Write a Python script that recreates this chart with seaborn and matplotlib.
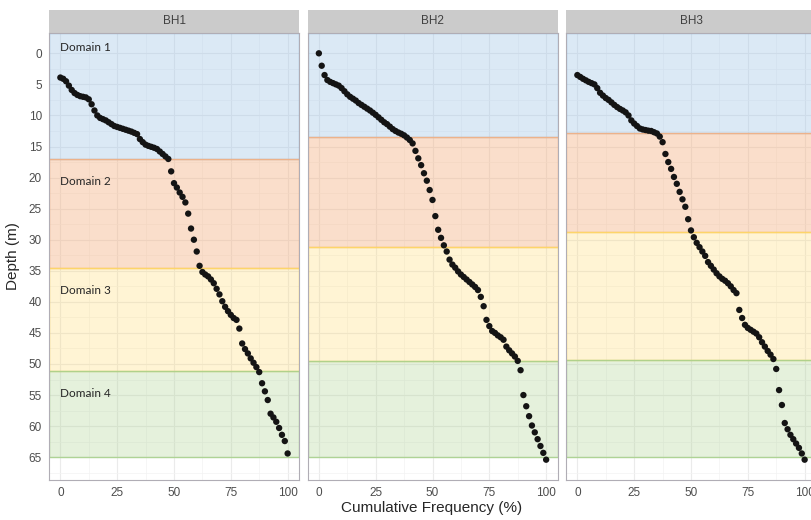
import pandas as pd
import numpy as np
import matplotlib
matplotlib.use('Agg')
import matplotlib.pyplot as plt
from matplotlib.patches import Rectangle
from matplotlib.colors import to_rgba
import seaborn as sns

boreholes = ['BH1', 'BH2', 'BH3']

# sorted depth samples (m) per borehole
depth_bh1 = [3.9, 4.1, 4.5, 5.2, 5.9, 6.4, 6.7, 6.9, 7.0, 7.1,
             7.4, 8.2, 9.2, 10.0, 10.4, 10.6, 10.8, 11.1, 11.4, 11.7,
             11.85, 12.0, 12.15, 12.3, 12.45, 12.6, 12.8, 13.0, 13.8, 14.3,
             14.7, 14.9, 15.05, 15.2, 15.4, 15.8, 16.2, 16.6, 17.0, 19.0,
             20.9, 21.6, 22.4, 23.1, 24.0, 25.8, 28.2, 30.0, 31.9, 34.2,
             35.2, 35.6, 35.9, 36.4, 37.0, 37.9, 38.8, 39.9, 40.8, 41.5,
             42.1, 42.6, 42.9, 44.3, 46.7, 47.6, 48.3, 49.1, 49.8, 50.5,
             51.3, 53.1, 54.4, 55.8, 58.0, 58.6, 59.3, 60.3, 61.4, 62.4,
             64.4]
depth_bh2 = [0.0, 2.0, 3.5, 4.3, 4.6, 4.8, 5.0, 5.2, 5.6, 6.1,
             6.6, 7.0, 7.3, 7.6, 8.0, 8.3, 8.6, 8.9, 9.2, 9.55,
             9.9, 10.3, 10.7, 11.1, 11.4, 11.8, 12.2, 12.5, 12.75, 12.95,
             13.2, 13.55, 13.95, 14.5, 15.7, 16.9, 18.0, 19.3, 20.5, 22.0,
             23.6, 26.2, 28.4, 29.7, 30.9, 31.9, 33.2, 34.0, 34.5, 35.1,
             35.6, 36.0, 36.4, 36.8, 37.2, 37.6, 38.1, 39.2, 40.7, 42.9,
             43.9, 44.7, 45.0, 45.4, 45.7, 46.1, 47.2, 47.8, 48.3, 48.8,
             49.5, 51.0, 55.0, 56.8, 58.4, 59.9, 61.0, 62.1, 63.2, 64.3,
             65.4]
depth_bh3 = [3.5, 3.8, 4.1, 4.35, 4.6, 4.8, 5.0, 5.6, 6.35, 6.8,
             7.2, 7.5, 7.9, 8.3, 8.65, 8.95, 9.2, 9.5, 10.0, 10.8,
             11.3, 11.7, 12.1, 12.25, 12.35, 12.45, 12.5, 12.7, 12.9, 13.4,
             14.3, 16.2, 17.5, 18.6, 19.9, 21.0, 22.3, 23.5, 24.7, 26.7,
             28.5, 29.6, 30.5, 31.2, 31.9, 32.6, 33.6, 34.2, 34.8, 35.4,
             35.9, 36.3, 36.6, 37.0, 37.5, 38.1, 38.6, 41.3, 42.6, 43.7,
             44.2, 44.5, 44.8, 45.1, 45.7, 46.5, 47.2, 47.9, 48.5, 49.2,
             50.8, 54.2, 56.6, 59.5, 60.5, 61.4, 62.1, 62.8, 63.5, 64.4,
             65.4]

# lower boundary (m) of domain 1..4 in each borehole
bounds_bh1 = [17.0, 34.5, 51.1, 65.0]
bounds_bh2 = [13.5, 31.2, 49.5, 65.0]
bounds_bh3 = [12.9, 28.8, 49.4, 65.0]

domain_names = ['Domain 1', 'Domain 2', 'Domain 3', 'Domain 4']
domain_colors = ['#9dc3e6', '#f4b183', '#ffd966', '#a9d18e']
domain_alpha = [0.36, 0.42, 0.28, 0.3]

x_ticks = [0, 25, 50, 75, 100]
y_ticks = list(range(0, 70, 5))

depths = {'BH1': depth_bh1, 'BH2': depth_bh2, 'BH3': depth_bh3}
bounds = {'BH1': bounds_bh1, 'BH2': bounds_bh2, 'BH3': bounds_bh3}

df = pd.concat([pd.DataFrame({'bh': bh, 'depth': depths[bh]}) for bh in boreholes],
               ignore_index=True)
rank = df.groupby('bh')['depth'].rank(method='first')
n = df.groupby('bh')['depth'].transform('size')
df['cum'] = (rank - 1) / (n - 1) * 100

sns.set_style('white')
plt.rcParams['font.family'] = ['Liberation Sans', 'DejaVu Sans']

g = sns.FacetGrid(df, col='bh', col_order=boreholes, sharey=True, sharex=True,
                  height=4, aspect=0.6, despine=False)
g.map_dataframe(sns.scatterplot, x='cum', y='depth', color='#141414', s=21,
                edgecolor='none', linewidth=0, zorder=3)
g.set_titles('')
g.set_axis_labels('', '')

fig = g.figure
fig.set_size_inches(8.11, 5.2)
fig.set_dpi(100)

W, H = 811, 520
top_px, bot_px = 33, 480
lefts = [49, 307.5, 566]
pw = 250
ylo, yhi = -3.27, 68.67
strip_h = 23 / (bot_px - top_px)

for i, (ax, bh) in enumerate(zip(g.axes.flat, boreholes)):
    ax.set_position([lefts[i] / W, 1 - bot_px / H, pw / W, (bot_px - top_px) / H])
    ax.set_xlim(-5, 105)
    ax.set_ylim(yhi, ylo)
    ax.set_xticks(x_ticks)
    ax.set_yticks(y_ticks)
    ax.set_xticks([12.5, 37.5, 62.5, 87.5], minor=True)
    ax.set_yticks([v + 2.5 for v in y_ticks], minor=True)
    ax.set_axisbelow(True)
    ax.grid(which='major', color='#ebebeb', lw=0.8)
    ax.grid(which='minor', color='#f3f3f3', lw=0.5)
    ax.tick_params(which='minor', length=0)
    ax.tick_params(which='major', length=3, width=0.8, color='#666666',
                   labelcolor='#4d4d4d', labelsize=8.5, pad=2)
    if i > 0:
        ax.tick_params(axis='y', left=False, labelleft=False)
    for sp in ax.spines.values():
        sp.set_color('#b0adb5')
        sp.set_linewidth(0.8)

    top = ylo
    for k, b in enumerate(bounds[bh]):
        ax.axhspan(top, b, facecolor=to_rgba(domain_colors[k], domain_alpha[k]),
                   edgecolor=to_rgba(domain_colors[k], 0.9), lw=1.0, zorder=1)
        if i == 0:
            ty = top + 2.3 if k == 0 else top + 3.6
            ax.text(0, ty, domain_names[k], fontsize=8.5, color='#262626',
                    family=['Lato', 'DejaVu Sans'], va='center', ha='left', zorder=4)
        top = b

    ax.add_patch(Rectangle((0, 1), 1, strip_h, transform=ax.transAxes,
                           facecolor='#cbcbcb', edgecolor='none', clip_on=False))
    ax.text(0.5, 1 + strip_h / 2, bh, transform=ax.transAxes, ha='center',
            va='center', fontsize=8.5, color='#404040')

fig.text(13 / W, 1 - ((top_px + bot_px) / 2) / H, 'Depth (m)', rotation=90,
         ha='center', va='center', fontsize=11, color='#262626')
fig.text(432 / W, 1 - 508 / H, 'Cumulative Frequency (%)', ha='center',
         va='center', fontsize=11, color='#262626')

fig.savefig('out.png', dpi=100)
